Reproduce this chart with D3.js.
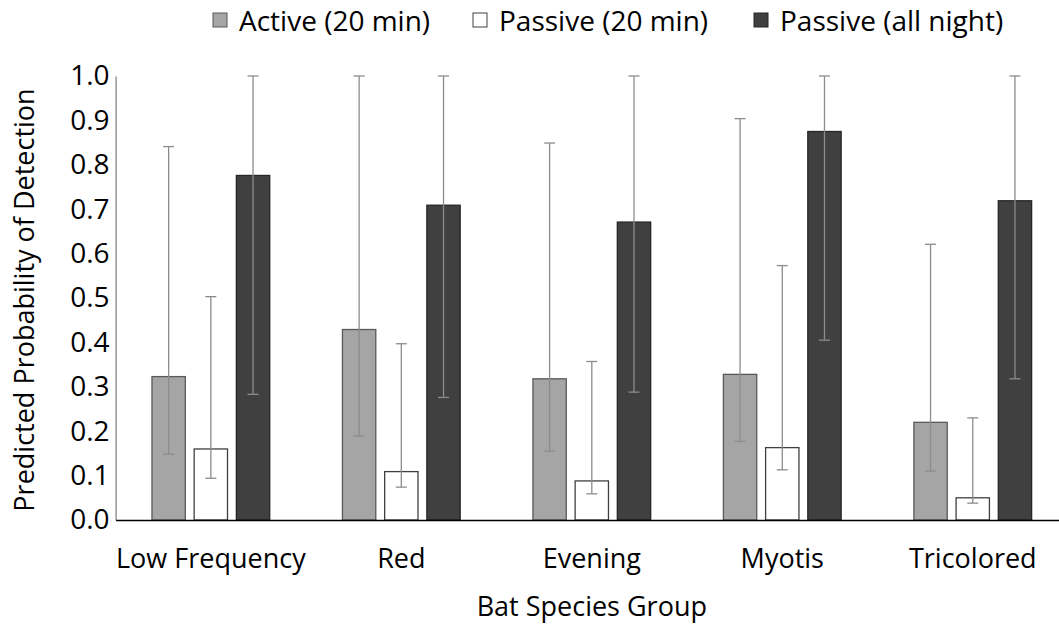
<!DOCTYPE html>
<html>
<head>
<meta charset="utf-8">
<script src="https://cdn.jsdelivr.net/npm/d3@7"></script>
<style>
  html, body { margin: 0; padding: 0; background: #fff; overflow: hidden; }
  svg { display: block; font-family: "Open Sans", "Noto Sans", sans-serif; }
</style>
</head>
<body>
<svg id="chart" width="1059" height="624"></svg>
<script>
// Bat species groups on the x axis
const categories = ["Low Frequency", "Red", "Evening", "Myotis", "Tricolored"];
// Survey methods (legend series)
const series = ["Active (20 min)", "Passive (20 min)", "Passive (all night)"];

// Predicted probability of detection per method, one value per species group
const activeValues      = [0.323, 0.429, 0.318, 0.328, 0.220];
const passiveValues     = [0.160, 0.109, 0.088, 0.163, 0.050];
const allNightValues    = [0.776, 0.709, 0.671, 0.875, 0.719];

// Confidence interval bounds
const activeLower   = [0.148, 0.189, 0.155, 0.177, 0.110];
const activeUpper   = [0.841, 1.000, 0.849, 0.904, 0.621];
const passiveLower  = [0.094, 0.074, 0.059, 0.113, 0.038];
const passiveUpper  = [0.503, 0.397, 0.357, 0.573, 0.230];
const allNightLower = [0.283, 0.276, 0.288, 0.405, 0.318];
const allNightUpper = [1.000, 1.000, 1.000, 1.000, 1.000];

const yTicks = [0.0, 0.1, 0.2, 0.3, 0.4, 0.5, 0.6, 0.7, 0.8, 0.9, 1.0];

const seriesValues = [activeValues, passiveValues, allNightValues];
const seriesLower  = [activeLower, passiveLower, allNightLower];
const seriesUpper  = [activeUpper, passiveUpper, allNightUpper];
const fills   = ["#a5a5a5", "#ffffff", "#404040"];
const strokes = ["#595959", "#404040", "#262626"];

const rows = [];
categories.forEach((c, i) => {
  series.forEach((s, j) => {
    rows.push({ cat: c, ser: s, j, v: seriesValues[j][i], lo: seriesLower[j][i], hi: seriesUpper[j][i] });
  });
});

const svg = d3.select("#chart");
const plotLeft = 115.6, plotRight = 1068, plotTop = 76, plotBottom = 520;

const x = d3.scaleBand().domain(categories).range([plotLeft, plotRight]).padding(0);
const xs = d3.scaleBand().domain(series).range([0, x.bandwidth()])
  .paddingInner(0.21).paddingOuter(0.862);
const y = d3.scaleLinear().domain([0, 1]).range([plotBottom, plotTop]);

// Bars
svg.append("g").selectAll("rect").data(rows).join("rect")
  .attr("x", d => x(d.cat) + xs(d.ser))
  .attr("y", d => y(d.v))
  .attr("width", xs.bandwidth())
  .attr("height", d => y(0) - y(d.v))
  .attr("fill", d => fills[d.j])
  .attr("stroke", d => strokes[d.j])
  .attr("stroke-width", 1.3);

// Error bars
const capHalf = 5.5;
const eg = svg.append("g").attr("stroke", "#8c8c8c").attr("stroke-width", 1.3).attr("fill", "none");
rows.forEach(d => {
  const cx = x(d.cat) + xs(d.ser) + xs.bandwidth() / 2;
  eg.append("line").attr("x1", cx).attr("x2", cx).attr("y1", y(d.lo)).attr("y2", y(d.hi));
  eg.append("line").attr("x1", cx - capHalf).attr("x2", cx + capHalf).attr("y1", y(d.lo)).attr("y2", y(d.lo));
  eg.append("line").attr("x1", cx - capHalf).attr("x2", cx + capHalf).attr("y1", y(d.hi)).attr("y2", y(d.hi));
});

// Y axis
const yAxis = svg.append("g").attr("transform", `translate(${plotLeft},0)`)
  .call(d3.axisLeft(y).tickValues(yTicks).tickFormat(d3.format(".1f")).tickSize(0).tickPadding(6));
yAxis.select(".domain").attr("stroke", "#868686").attr("stroke-width", 1.3);
yAxis.selectAll("text").attr("font-size", 28).attr("fill", "#000").attr("font-family", "Open Sans");

// X axis
const xAxis = svg.append("g").attr("transform", `translate(0,${plotBottom})`)
  .call(d3.axisBottom(x).tickSize(0).tickPadding(29));
xAxis.select(".domain").attr("stroke", "#000").attr("stroke-width", 1.5);
xAxis.selectAll("text").attr("font-size", 27).attr("fill", "#000").attr("font-family", "Open Sans");

// Axis titles
svg.append("text")
  .attr("x", (plotLeft + plotRight) / 2).attr("y", 616)
  .attr("text-anchor", "middle").attr("font-size", 27).attr("fill", "#000")
  .text("Bat Species Group");
svg.append("text")
  .attr("transform", `translate(34,${(plotTop + plotBottom) / 2 + 2}) rotate(-90)`)
  .attr("text-anchor", "middle").attr("font-size", 27).attr("fill", "#000")
  .text("Predicted Probability of Detection");

// Legend
const legendX = [213, 473, 754];
const lg = svg.append("g");
series.forEach((s, j) => {
  lg.append("rect").attr("x", legendX[j]).attr("y", 13).attr("width", 14).attr("height", 14)
    .attr("fill", fills[j]).attr("stroke", strokes[j]).attr("stroke-width", 1);
  lg.append("text").attr("x", legendX[j] + 26).attr("y", 31)
    .attr("font-size", 28).attr("fill", "#000").text(s);
});
</script>
</body>
</html>
